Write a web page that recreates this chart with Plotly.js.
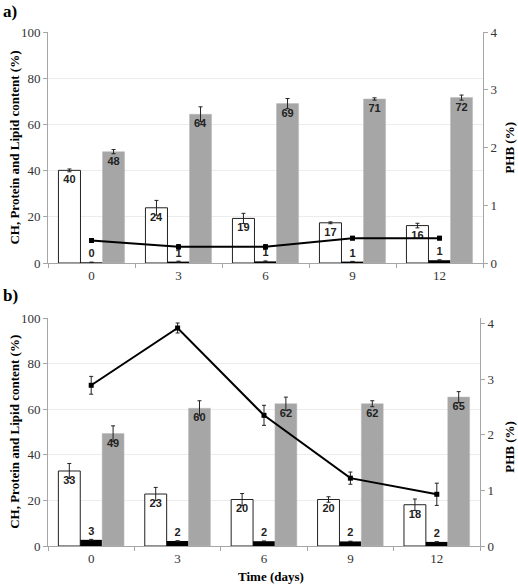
<!DOCTYPE html>
<html>
<head>
<meta charset="utf-8">
<script src="https://cdn.plot.ly/plotly-3.0.1.min.js"></script>
<style>html,body{margin:0;padding:0;background:#fff;}#chart{width:518px;height:584px;}</style>
</head>
<body>
<div id="chart"></div>
<script>
// Categories (time, days)
const days = ['0', '3', '6', '9', '12'];

// Panel a)
const chA = [40.1, 23.9, 19.3, 17.4, 16.2];
const chAErr = [0.6, 3.2, 2.2, 0.4, 1.0];
const lipA = [0.3, 0.6, 0.7, 0.6, 1.2];
const lipAErr = [0.1, 0.2, 0.2, 0.1, 0.2];
const protA = [48.2, 64.4, 69.0, 71.0, 71.6];
const protAErr = [0.9, 3.2, 2.2, 0.5, 1.1];
const phbA = [0.39, 0.28, 0.28, 0.43, 0.43];
const phbAErr = [0.02, 0.04, 0.04, 0.03, 0.03];

// Panel b)
const chB = [32.9, 22.8, 20.4, 20.4, 18.1];
const chBErr = [3.3, 2.9, 2.6, 1.2, 2.5];
const lipB = [2.7, 2.2, 2.1, 2.0, 1.8];
const lipBErr = [0.2, 0.1, 0.1, 0.1, 0.1];
const protB = [49.3, 60.4, 62.4, 62.4, 65.3];
const protBErr = [3.4, 3.3, 2.9, 1.3, 2.4];
const phbB = [2.89, 3.92, 2.35, 1.22, 0.93];
const phbBErr = [0.16, 0.09, 0.18, 0.11, 0.2];

const serif = 'Liberation Serif';
const sans = 'Liberation Sans';
const labelFont = {family: sans, size: 11, color: '#222', weight: 700};
const errStyle = (arr) => ({type: 'data', array: arr, visible: true, color: '#222', thickness: 1, width: 2});
const rounded = (arr) => arr.map(v => String(Math.round(v)));

function panel(ch, chE, lip, lipE, prot, protE, phb, phbE, xa, ya, ya2) {
  return [
    {type: 'bar', x: days, y: ch, xaxis: xa, yaxis: ya, error_y: errStyle(chE),
     marker: {color: '#ffffff', line: {color: '#222', width: 1}},
     text: rounded(ch), textposition: 'inside', insidetextanchor: 'end', textangle: 0,
     textfont: labelFont, insidetextfont: labelFont, hoverinfo: 'skip'},
    {type: 'bar', x: days, y: lip, xaxis: xa, yaxis: ya, error_y: errStyle(lipE),
     marker: {color: '#000000', line: {color: '#000', width: 0}},
     text: rounded(lip), textposition: 'outside', textangle: 0, cliponaxis: false,
     textfont: labelFont, outsidetextfont: labelFont, hoverinfo: 'skip'},
    {type: 'bar', x: days, y: prot, xaxis: xa, yaxis: ya, error_y: errStyle(protE),
     marker: {color: '#a6a6a6', line: {color: '#b8b8b8', width: 0.5}},
     text: rounded(prot), textposition: 'inside', insidetextanchor: 'end', textangle: 0,
     textfont: labelFont, insidetextfont: labelFont, hoverinfo: 'skip'},
    {type: 'scatter', mode: 'lines+markers', x: days, y: phb, xaxis: xa, yaxis: ya2,
     error_y: {type: 'data', array: phbE, visible: true, color: '#222', thickness: 1, width: 2},
     line: {color: '#000', width: 2}, marker: {symbol: 'square', size: 5, color: '#000'},
     hoverinfo: 'skip'}
  ];
}

const data = [].concat(
  panel(chA, chAErr, lipA, lipAErr, protA, protAErr, phbA, phbAErr, 'x', 'y', 'y2'),
  panel(chB, chBErr, lipB, lipBErr, protB, protBErr, phbB, phbBErr, 'x2', 'y3', 'y4')
);

const tickFont = {family: serif, size: 13, color: '#333'};
const axisCommon = {
  showline: true, linecolor: '#a6a6a6', linewidth: 1,
  ticks: 'outside', ticklen: 4, tickcolor: '#a6a6a6', tickfont: tickFont,
  zeroline: false, fixedrange: true
};

const domA = [283 / 514, 1];
const domB = [0, 228 / 514];

const layout = {
  width: 518, height: 584,
  margin: {l: 48, r: 35, t: 32, b: 38},
  paper_bgcolor: '#fff', plot_bgcolor: '#fff',
  showlegend: false,
  barmode: 'group', bargap: 0.24, bargroupgap: 0,
  font: {family: serif, color: '#222'},
  xaxis: Object.assign({}, axisCommon, {type: 'category', domain: [0, 1], anchor: 'y', tickson: 'boundaries', showgrid: false}),
  yaxis: Object.assign({}, axisCommon, {domain: domA, anchor: 'x', range: [0, 100], dtick: 20, showgrid: true, gridcolor: '#ececec'}),
  yaxis2: Object.assign({}, axisCommon, {domain: domA, anchor: 'x', overlaying: 'y', side: 'right', range: [0, 4], dtick: 1, showgrid: false}),
  xaxis2: Object.assign({}, axisCommon, {type: 'category', domain: [0, 432 / 435], anchor: 'y3', tickson: 'boundaries', showgrid: false}),
  yaxis3: Object.assign({}, axisCommon, {domain: domB, anchor: 'x2', range: [0, 100], dtick: 20, showgrid: true, gridcolor: '#ececec'}),
  yaxis4: Object.assign({}, axisCommon, {domain: domB, anchor: 'x2', overlaying: 'y3', side: 'right', range: [0, 4.1], tickvals: [0, 1, 2, 3, 4], showgrid: false}),
  annotations: [
    {text: 'a)', xref: 'paper', yref: 'paper', x: -0.108, y: 1.039, xanchor: 'left', yanchor: 'middle', showarrow: false,
     font: {family: serif, size: 17, color: '#000', weight: 700}},
    {text: 'b)', xref: 'paper', yref: 'paper', x: -0.108, y: 0.488, xanchor: 'left', yanchor: 'middle', showarrow: false,
     font: {family: serif, size: 17, color: '#000', weight: 700}},
    {text: 'CH, Protein and Lipid content (%)', xref: 'paper', yref: 'paper', x: -0.076, y: 0.775, xanchor: 'center', yanchor: 'middle',
     textangle: -90, showarrow: false, font: {family: serif, size: 13, color: '#000', weight: 700}},
    {text: 'CH, Protein and Lipid content (%)', xref: 'paper', yref: 'paper', x: -0.076, y: 0.222, xanchor: 'center', yanchor: 'middle',
     textangle: -90, showarrow: false, font: {family: serif, size: 13, color: '#000', weight: 700}},
    {text: 'PHB (%)', xref: 'paper', yref: 'paper', x: 1.062, y: 0.775, xanchor: 'center', yanchor: 'middle',
     textangle: -90, showarrow: false, font: {family: serif, size: 13, color: '#000', weight: 700}},
    {text: 'PHB (%)', xref: 'paper', yref: 'paper', x: 1.062, y: 0.193, xanchor: 'center', yanchor: 'middle',
     textangle: -90, showarrow: false, font: {family: serif, size: 13, color: '#000', weight: 700}},
    {text: 'Time (days)', xref: 'paper', yref: 'paper', x: (271 - 48) / 435, y: -0.060, xanchor: 'center', yanchor: 'middle',
     showarrow: false, font: {family: serif, size: 13, color: '#000', weight: 700}}
  ]
};

Plotly.newPlot('chart', data, layout, {displayModeBar: false, staticPlot: true});
</script>
</body>
</html>
